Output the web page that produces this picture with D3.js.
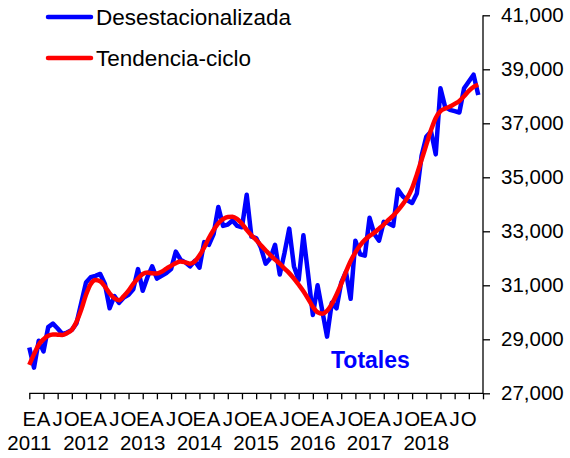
<!DOCTYPE html>
<html>
<head>
<meta charset="utf-8">
<script src="https://cdn.jsdelivr.net/npm/d3@7"></script>
<style>
  body { margin: 0; background: #fff; }
  svg { display: block; font-family: "Liberation Sans", Arial, sans-serif; }
</style>
</head>
<body>
<script>
// monthly data, enero 2011 - diciembre 2018
var years = ["2011", "2012", "2013", "2014", "2015", "2016", "2017", "2018"];
var quarterLetters = ["E", "A", "J", "O"];
var yTicks = [27000, 29000, 31000, 33000, 35000, 37000, 39000, 41000];

var desestacionalizada = [
  28700, 27950, 28950, 28550, 29450, 29580, 29400, 29200, 29250, 29350, 29600, 30350,
  31100, 31300, 31350, 31420, 31050, 30150, 30600, 30350, 30550, 30650, 30850, 31600,
  30800, 31300, 31700, 31250, 31350, 31450, 31600, 32250, 31950, 31850, 31700, 31900,
  31650, 32600, 32500, 32900, 33900, 33200, 33250, 33400, 33200, 33150, 34350, 32800,
  32750, 32400, 31800, 32000, 32500, 31400, 32200, 33100, 31700, 31200, 32850, 31400,
  29900, 31000, 30050, 29100, 30350, 30150, 31100, 31500, 30500, 32650, 32150, 32100,
  33500, 32900, 32650, 33350, 33300, 33200, 34550, 34300, 34150, 34050, 34400, 35800,
  36500, 36700, 35850, 38300, 37600, 37500, 37450, 37400, 38300, 38550, 38800, 38050
];
var tendenciaCiclo = [
  28050, 28450, 28800, 29000, 29130, 29180, 29170, 29160, 29230, 29350, 29650, 30100,
  30650, 31050, 31200, 31150, 30950, 30700, 30520, 30450, 30600, 30800, 31050, 31250,
  31420, 31470, 31450, 31440, 31500, 31620, 31720, 31820, 31880, 31850, 31800, 31880,
  32100, 32400, 32750, 33050, 33300, 33450, 33530, 33540, 33450, 33280, 33050, 32850,
  32680, 32480, 32300, 32120, 31950, 31800, 31620, 31450, 31250, 31020, 30780, 30500,
  30200, 30000, 29950, 30050, 30300, 30650, 31050, 31500, 31900, 32220, 32480, 32680,
  32830, 32950, 33100, 33250, 33420, 33580, 33780, 34000, 34250, 34600, 35100, 35650,
  36200, 36750, 37200, 37450, 37550, 37620, 37720, 37830, 38000, 38200, 38350, 38420
];

var width = 570, height = 458;
var svg = d3.select("body").append("svg")
    .attr("width", width)
    .attr("height", height);

var nMonths = years.length * 12;
var x = d3.scaleLinear().domain([0, nMonths]).range([29.3, 483]);
var y = d3.scaleLinear().domain([27000, 41000]).range([393.3, 15.3]);

// y axis on the right
var yAxis = d3.axisRight(y)
    .tickValues(yTicks)
    .tickFormat(d3.format(","))
    .tickSize(7)
    .tickPadding(11);
var gy = svg.append("g")
    .attr("transform", "translate(" + x(nMonths) + ",0)")
    .call(yAxis);
gy.select(".domain").attr("d", "M0," + y(41000) + "V" + y(27000));
gy.selectAll("line").attr("stroke", "#000").attr("stroke-width", 1.3);
gy.select(".domain").attr("stroke", "#000").attr("stroke-width", 1.3);
gy.selectAll("text")
    .attr("font-size", 20.5)
    .attr("font-family", "Liberation Sans, Arial, sans-serif")
    .attr("fill", "#000");

// x axis: quarter ticks
var quarters = d3.range(0, nMonths + 1, 3);
var xAxis = d3.axisBottom(x)
    .tickValues(quarters)
    .tickSize(6)
    .tickFormat("");
var gx = svg.append("g")
    .attr("transform", "translate(0," + y(27000) + ")")
    .call(xAxis);
gx.select(".domain").attr("d", "M" + x(0) + ",0H" + x(nMonths));
gx.selectAll("line, .domain").attr("stroke", "#000").attr("stroke-width", 1.3);

svg.append("g").selectAll("text")
    .data(quarters.slice(0, -1))
    .enter().append("text")
    .attr("x", function(d) { return x(d); })
    .attr("y", 426)
    .attr("text-anchor", "middle")
    .attr("font-size", 20.5)
    .text(function(d) { return quarterLetters[(d / 3) % 4]; });

svg.append("g").selectAll("text")
    .data(years)
    .enter().append("text")
    .attr("x", function(d, i) { return x(i * 12); })
    .attr("y", 450)
    .attr("text-anchor", "middle")
    .attr("font-size", 20.5)
    .text(function(d) { return d; });

// series
var line = d3.line()
    .x(function(d, i) { return x(i); })
    .y(function(d) { return y(d); });

svg.append("path")
    .datum(desestacionalizada)
    .attr("d", line)
    .attr("fill", "none")
    .attr("stroke", "#0000ff")
    .attr("stroke-width", 4.5)
    .attr("stroke-linejoin", "round");

svg.append("path")
    .datum(tendenciaCiclo)
    .attr("d", line.curve(d3.curveMonotoneX))
    .attr("fill", "none")
    .attr("stroke", "#ff0000")
    .attr("stroke-width", 4.5)
    .attr("stroke-linejoin", "round");

// legend
var legend = [
  {name: "Desestacionalizada", color: "#0000ff", y: 17},
  {name: "Tendencia-ciclo", color: "#ff0000", y: 58}
];
var lg = svg.append("g").selectAll("g")
    .data(legend)
    .enter().append("g");
lg.append("line")
    .attr("x1", 48).attr("x2", 91)
    .attr("y1", function(d) { return d.y; })
    .attr("y2", function(d) { return d.y; })
    .attr("stroke", function(d) { return d.color; })
    .attr("stroke-width", 4.5)
    .attr("stroke-linecap", "round");
lg.append("text")
    .attr("x", 96)
    .attr("y", function(d) { return d.y + 8; })
    .attr("font-size", 22.5)
    .text(function(d) { return d.name; });

svg.append("text")
    .attr("x", 331)
    .attr("y", 368)
    .attr("font-size", 23)
    .attr("font-weight", "bold")
    .attr("fill", "#0000ff")
    .text("Totales");
</script>
</body>
</html>
